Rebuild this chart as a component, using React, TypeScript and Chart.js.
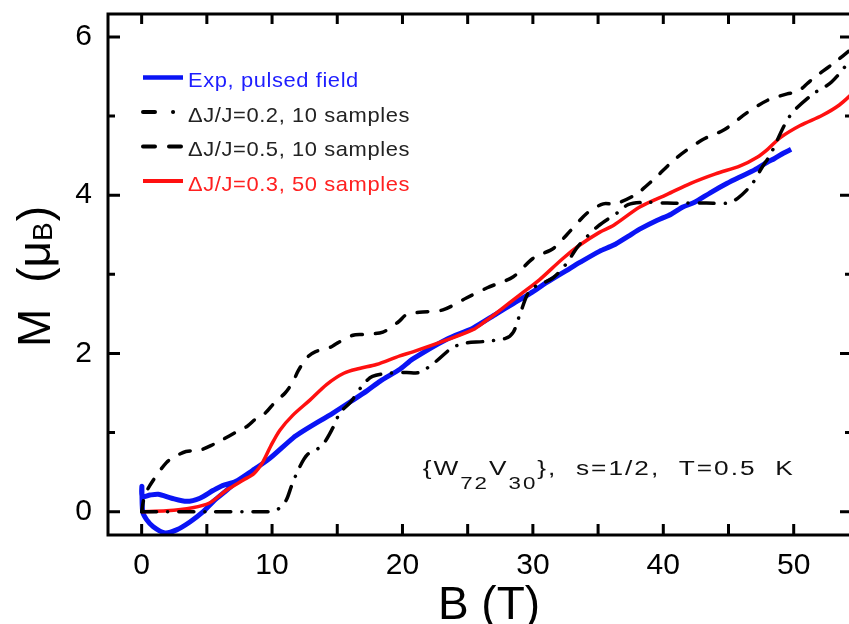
import React, { useEffect, useRef } from "react";
import { Chart, registerables } from "chart.js";

Chart.register(...registerables);

// ---------- data ----------
const xTickValues = [0, 10, 20, 30, 40, 50];
const xTickMarks = [0, 5, 10, 15, 20, 25, 30, 35, 40, 45, 50];
const yTickValues = [0, 2, 4, 6];
const yMinorMarks = [1, 3, 5];

const xMin = -2.58;
const xMax = 54.47;
const yMin = -0.295;
const yMax = 6.29;

// Experiment, pulsed field (path order: lower branch back to origin, spike, upper branch, main sweep)
const expB = [7.2, 6.3, 5.5, 4.72, 3.7, 2.68, 1.79, 0.89, 0.38, 0.08, 0.02, 0.05, 0.64, 1.27, 2.3, 3.45, 4.47, 5.5, 6.2, 7.2,
  8.5, 9.8, 11.6, 12.4, 14.7, 16.2, 17.3, 18.3, 19.8, 20.8, 23.4, 25.4, 27.2, 28.5, 29.8, 31.1, 32.6, 33.6, 35.1, 36.2,
  37.3, 38.3, 39.5, 40.6, 41.5, 42.4, 43.6, 44.9, 46.0, 47.0, 48.0, 48.5, 49.2, 49.8];
const expM = [0.37, 0.24, 0.13, 0.0, -0.13, -0.23, -0.27, -0.19, -0.1, 0.0, 0.32, 0.19, 0.21, 0.22, 0.17, 0.13, 0.17, 0.27, 0.33, 0.38,
  0.52, 0.67, 0.93, 1.02, 1.25, 1.41, 1.53, 1.65, 1.80, 1.93, 2.18, 2.32, 2.50, 2.63, 2.76, 2.90, 3.05, 3.15, 3.29, 3.37,
  3.48, 3.58, 3.68, 3.76, 3.85, 3.91, 4.03, 4.15, 4.24, 4.32, 4.42, 4.46, 4.53, 4.58];

// ΔJ/J = 0.2, 10 samples (dash-dot)
const d2B = [0, 5.0, 9.8, 10.3, 10.6, 11.1, 11.5, 12.1, 12.7, 13.8, 14.7, 15.2, 16.0, 17.0, 17.7, 19.0, 20.3, 21.3, 22.5, 23.8,
  24.8, 26.2, 27.9, 28.5, 29.0, 29.8, 31.5, 32.5, 33.4, 34.0, 35.0, 36.5, 37.3, 38.6, 40.3, 41.8, 43.3, 44.9, 45.7, 46.8,
  47.6, 48.2, 49.7, 51.4, 52.9, 54.6];
const d2M = [0, 0, 0, 0.02, 0.05, 0.15, 0.33, 0.56, 0.72, 0.83, 1.07, 1.25, 1.38, 1.61, 1.71, 1.75, 1.76, 1.76, 1.89, 2.07,
  2.13, 2.15, 2.19, 2.27, 2.49, 2.80, 2.95, 3.12, 3.34, 3.45, 3.61, 3.78, 3.88, 3.91, 3.90, 3.90, 3.90, 3.90, 3.96, 4.14,
  4.36, 4.51, 5.00, 5.27, 5.43, 5.76];

// ΔJ/J = 0.5, 10 samples (dashed)
const d5B = [0, 0.25, 0.9, 1.9, 2.6, 3.4, 4.5, 5.5, 6.2, 7.3, 8.1, 8.8, 9.5, 10.2, 11.0, 11.6, 12.0, 12.7, 13.3, 14.5,
  15.0, 16.2, 17.0, 18.5, 19.7, 20.3, 21.3, 23.1, 24.9, 26.5, 28.5, 30.0, 31.6, 32.6, 34.2, 35.4, 36.3, 37.8, 39.2, 41.0,
  43.0, 44.7, 46.4, 48.0, 49.5, 50.3, 51.1, 51.6, 53.0, 54.6];
const d5M = [0, 0.21, 0.40, 0.62, 0.70, 0.76, 0.78, 0.85, 0.91, 1.01, 1.08, 1.18, 1.25, 1.38, 1.50, 1.64, 1.78, 1.95, 2.02, 2.08,
  2.13, 2.23, 2.24, 2.27, 2.40, 2.49, 2.52, 2.55, 2.70, 2.83, 2.97, 3.20, 3.33, 3.50, 3.78, 3.89, 3.89, 4.00, 4.19, 4.47,
  4.70, 4.83, 5.04, 5.20, 5.28, 5.31, 5.42, 5.49, 5.66, 5.87];

// ΔJ/J = 0.3, 50 samples (red)
const redB = [0, 1.9, 3.9, 5.2, 6.5, 7.8, 8.6, 9.3, 9.9, 10.6, 11.6, 12.9, 14.2, 15.5, 16.7, 18.0, 19.8, 20.8, 23.4, 25.4,
  26.3, 27.2, 29.0, 30.5, 32.3, 33.6, 35.1, 36.2, 38.2, 40.3, 42.1, 44.0, 45.9, 47.2, 48.0, 49.0, 50.5, 52.2, 53.5, 54.6];
const redM = [0, 0.01, 0.05, 0.11, 0.27, 0.40, 0.48, 0.63, 0.83, 1.03, 1.22, 1.41, 1.61, 1.75, 1.81, 1.86, 1.97, 2.02, 2.17, 2.30,
  2.40, 2.51, 2.74, 2.93, 3.20, 3.37, 3.53, 3.62, 3.85, 4.01, 4.15, 4.27, 4.37, 4.48, 4.58, 4.73, 4.88, 5.01, 5.14, 5.30];

const legendLabels = ["Exp, pulsed field", "ΔJ/J=0.2, 10 samples", "ΔJ/J=0.5, 10 samples", "ΔJ/J=0.3, 50 samples"];
const xTitle = "B (T)";
const yTitle = ["M", "(μ", "B", ")"];
const annotation = ["{W", "72", "V", "30", "},  s=1/2,  T=0.5  K"];

// ---------- styles ----------
const FONT = "'Liberation Sans', Arial, sans-serif";
const BLUE = "#0a14f5";
const RED = "#ff1010";
const BLACK = "#000000";
const DASH_DOT = [15, 11, 0.1, 11];
const DASHED = [11, 13];

const pts = (xs: number[], ys: number[]) => xs.map((x, i) => ({ x, y: ys[i] }));

type Run = { t: string; size: number; dy?: number; gap?: number; color?: string };

function setFont(ctx: CanvasRenderingContext2D, size: number, ls: number) {
  ctx.font = `${size}px ${FONT}`;
  (ctx as any).letterSpacing = `${ls}px`;
}

function runsWidth(ctx: CanvasRenderingContext2D, runs: Run[], ls: number) {
  let w = 0;
  for (const r of runs) {
    setFont(ctx, r.size, ls);
    w += (r.gap ?? 0) + ctx.measureText(r.t).width;
  }
  return w;
}

function countChars(runs: Run[]) {
  return runs.reduce((n, r) => n + Array.from(r.t).length, 0);
}

function drawRuns(ctx: CanvasRenderingContext2D, runs: Run[], x: number, y: number, color: string, ls: number) {
  let cx = x;
  for (const r of runs) {
    setFont(ctx, r.size, ls);
    cx += r.gap ?? 0;
    ctx.fillStyle = r.color ?? color;
    ctx.fillText(r.t, cx, y + (r.dy ?? 0));
    cx += ctx.measureText(r.t).width;
  }
}

// horizontal stretch factor so that runs (with spacing ls) span the target width
function stretchFor(ctx: CanvasRenderingContext2D, runs: Run[], target: number, ls: number) {
  const base = runsWidth(ctx, runs, 0);
  return (target - ls * countChars(runs)) / base;
}

function drawStretched(ctx: CanvasRenderingContext2D, runs: Run[], x: number, y: number, color: string, sx: number, ls: number) {
  ctx.save();
  ctx.translate(x, y);
  ctx.scale(sx, 1);
  drawRuns(ctx, runs, 0, 0, color, ls / sx);
  ctx.restore();
}

const framePlugin = {
  id: "frame",
  afterDatasetsDraw(chart: any) {
    const { ctx, chartArea: a, scales } = chart;
    const xs = scales.x;
    const ys = scales.y;
    ctx.save();
    ctx.strokeStyle = BLACK;
    ctx.lineWidth = 3;
    ctx.lineCap = "butt";
    ctx.setLineDash([]);
    ctx.strokeRect(a.left, a.top, a.right - a.left, a.bottom - a.top);
    ctx.beginPath();
    for (const v of xTickMarks) {
      const px = xs.getPixelForValue(v);
      ctx.moveTo(px, a.bottom);
      ctx.lineTo(px, a.bottom - 11);
      ctx.moveTo(px, a.top);
      ctx.lineTo(px, a.top + 10);
    }
    for (const v of yTickValues) {
      const py = ys.getPixelForValue(v);
      ctx.moveTo(a.left, py);
      ctx.lineTo(a.left + 12, py);
      ctx.moveTo(a.right, py);
      ctx.lineTo(a.right - 12, py);
    }
    for (const v of yMinorMarks) {
      const py = ys.getPixelForValue(v);
      ctx.moveTo(a.left, py);
      ctx.lineTo(a.left + 7, py);
      ctx.moveTo(a.right, py);
      ctx.lineTo(a.right - 7, py);
    }
    ctx.stroke();
    ctx.restore();
  },
};

const textPlugin = {
  id: "texts",
  afterDraw(chart: any) {
    const { ctx, chartArea: a, scales } = chart;
    ctx.save();
    ctx.textAlign = "left";

    // legend
    const colors = ["#1e1eff", "#222222", "#222222", "#ff2020"];
    const lineColors = [BLUE, BLACK, BLACK, RED];
    const dashes = [[], [12, 18, 0.1, 40], [12, 14], []];
    const widths = [4.5, 4, 4, 4];
    const lx0 = a.left + 35;
    const lx1 = a.left + 75;
    const legendSx = stretchFor(ctx, [{ t: legendLabels[1], size: 21 }], 222, 0.6);
    for (let i = 0; i < legendLabels.length; i++) {
      const ty = a.top + 66.5 + 34.5 * i;
      ctx.beginPath();
      ctx.strokeStyle = lineColors[i];
      ctx.lineWidth = widths[i];
      ctx.lineCap = i === 0 || i === 3 ? "butt" : "round";
      ctx.setLineDash(dashes[i]);
      ctx.moveTo(lx0, ty - 3);
      ctx.lineTo(lx1, ty - 3);
      ctx.stroke();
      ctx.setLineDash([]);
      ctx.textBaseline = "middle";
      drawStretched(ctx, [{ t: legendLabels[i], size: 21 }], lx1 + 5, ty + 1, colors[i], legendSx, 0.6);
    }

    // annotation
    ctx.textBaseline = "alphabetic";
    const annRuns: Run[] = [
      { t: annotation[0], size: 20 },
      { t: annotation[1], size: 17, dy: 14 },
      { t: annotation[2], size: 20 },
      { t: annotation[3], size: 17, dy: 14 },
      { t: annotation[4], size: 20 },
    ];
    const annSx = stretchFor(ctx, annRuns, 372, 2.0);
    const ax = scales.x.getPixelForValue(21.55);
    const ay = scales.y.getPixelForValue(0.465);
    drawStretched(ctx, annRuns, ax, ay, "#111111", annSx, 2.0);

    // x title
    const xr: Run[] = [{ t: xTitle, size: 46 }];
    const xw = runsWidth(ctx, xr, 0);
    drawRuns(ctx, xr, (a.left + a.right) / 2 + 9 - xw / 2, 619, BLACK, 0);

    // y title (rotated)
    const yr: Run[] = [
      { t: yTitle[0], size: 46 },
      { t: yTitle[1], size: 46, gap: 26 },
      { t: yTitle[2], size: 28, dy: 2 },
      { t: yTitle[3], size: 46, gap: 1 },
    ];
    const yw = runsWidth(ctx, yr, 0);
    ctx.translate(50, (a.top + a.bottom) / 2 + 2);
    ctx.rotate(-Math.PI / 2);
    drawRuns(ctx, yr, -yw / 2, 0, BLACK, 0);
    ctx.restore();
  },
};

export default function App() {
  const ref = useRef<HTMLCanvasElement | null>(null);

  useEffect(() => {
    document.documentElement.style.overflow = "hidden";
    document.body.style.overflow = "hidden";
    const canvas = ref.current;
    if (!canvas) return;
    const tickFont = { family: FONT, size: 30 };
    const chart = new Chart(canvas, {
      type: "line",
      data: {
        datasets: [
          {
            label: legendLabels[3],
            data: pts(redB, redM),
            borderColor: RED,
            borderWidth: 3.5,
            tension: 0.3,
            pointRadius: 0,
            fill: false,
            order: 3,
          },
          {
            label: legendLabels[0],
            data: pts(expB, expM),
            borderColor: BLUE,
            borderWidth: 5,
            tension: 0.25,
            pointRadius: 0,
            fill: false,
            order: 4,
          },
          {
            label: legendLabels[1],
            data: pts(d2B, d2M),
            borderColor: BLACK,
            borderWidth: 3.5,
            borderDash: DASH_DOT,
            borderCapStyle: "round",
            tension: 0.3,
            pointRadius: 0,
            fill: false,
            order: 2,
          },
          {
            label: legendLabels[2],
            data: pts(d5B, d5M),
            borderColor: BLACK,
            borderWidth: 3.5,
            borderDash: DASHED,
            borderCapStyle: "round",
            tension: 0.3,
            pointRadius: 0,
            fill: false,
            order: 1,
          },
        ],
      },
      options: {
        animation: false,
        responsive: false,
        layout: { padding: { top: 14, right: 4, left: 0, bottom: 0 } },
        plugins: { legend: { display: false }, tooltip: { enabled: false } },
        scales: {
          x: {
            type: "linear",
            min: xMin,
            max: xMax,
            afterFit: (s: any) => {
              s.height = 89;
              s.paddingLeft = 0;
              s.paddingRight = 0;
            },
            afterBuildTicks: (s: any) => {
              s.ticks = xTickValues.map((v) => ({ value: v }));
            },
            grid: { display: false, drawTicks: false },
            border: { display: false },
            ticks: { padding: 13, font: tickFont, color: BLACK, autoSkip: false, maxRotation: 0 },
          },
          y: {
            type: "linear",
            min: yMin,
            max: yMax,
            afterFit: (s: any) => {
              s.width = 108;
              s.paddingTop = 0;
              s.paddingBottom = 0;
            },
            afterBuildTicks: (s: any) => {
              s.ticks = yTickValues.map((v) => ({ value: v }));
            },
            grid: { display: false, drawTicks: false },
            border: { display: false },
            ticks: { padding: 16, font: tickFont, color: BLACK, autoSkip: false },
          },
        },
      },
      plugins: [framePlugin, textPlugin],
    } as any);
    return () => chart.destroy();
  }, []);

  return (
    <div style={{ position: "fixed", left: 0, top: 0, width: 856, height: 624, background: "#fff" }}>
      <canvas ref={ref} width={856} height={624} style={{ display: "block" }} />
    </div>
  );
}
